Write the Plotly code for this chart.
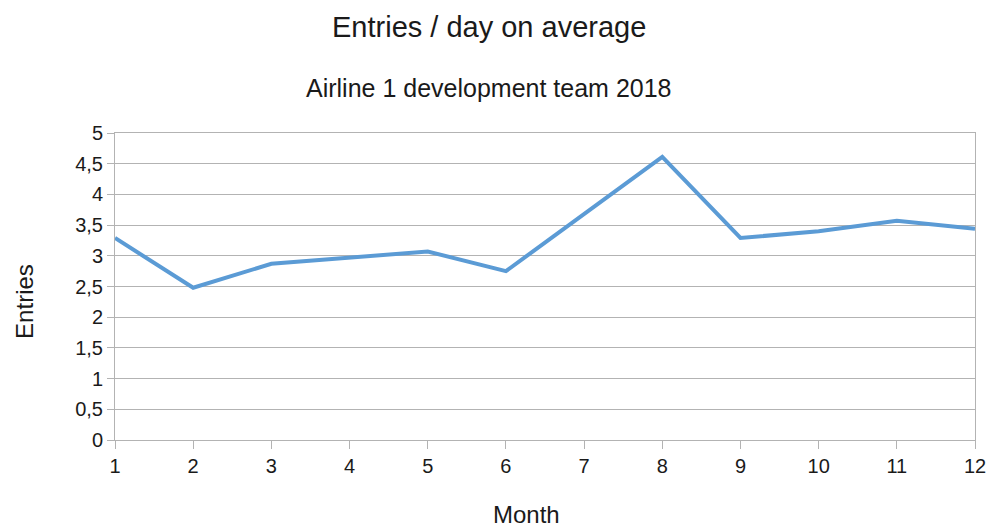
import plotly.graph_objects as go

# Average entries per day, by month
months = [1, 2, 3, 4, 5, 6, 7, 8, 9, 10, 11, 12]
entries = [3.29, 2.48, 2.87, 2.97, 3.07, 2.75, 3.68, 4.61, 3.29, 3.40, 3.57, 3.44]

y_ticks = [0, 0.5, 1, 1.5, 2, 2.5, 3, 3.5, 4, 4.5, 5]

font_family = "Liberation Sans, Arial, sans-serif"
text_col = "#1a1a1a"
grid_col = "#b3b3b3"


def paper_text(text, x, y, size, angle=0):
    return dict(text=text, x=x, y=y, xref="paper", yref="paper",
                xanchor="center", yanchor="middle", showarrow=False,
                textangle=angle,
                font=dict(size=size, family=font_family, color=text_col))


fig = go.Figure()
fig.add_trace(go.Scatter(
    x=months, y=entries, mode="lines",
    line=dict(color="#5b9bd5", width=4),
    showlegend=False,
))

fig.update_layout(
    width=989, height=528,
    margin=dict(l=115, r=14, t=133, b=88, autoexpand=False),
    paper_bgcolor="white", plot_bgcolor="white",
    font=dict(family=font_family, color=text_col, size=20),
    separators=", ",
    annotations=[
        paper_text("Entries / day on average", 0.435, 1.345, 29),
        paper_text("Airline 1 development team 2018", 0.435, 1.147, 25),
        paper_text("Month", 0.478, -0.244, 24),
        paper_text("Entries", -0.1047, 0.453, 24, angle=-90),
    ],
)

fig.update_xaxes(
    range=[1, 12], tickvals=months, ticktext=[str(m) for m in months],
    showgrid=False, showline=True, linecolor=grid_col, linewidth=1, mirror=True,
    ticks="outside", ticklen=8, tickcolor=grid_col, tickwidth=1,
    tickfont=dict(size=20), zeroline=False, automargin=False,
    ticklabeloverflow="allow",
)
fig.update_yaxes(
    range=[0, 5], tickvals=y_ticks,
    showgrid=True, gridcolor=grid_col, gridwidth=1,
    showline=True, linecolor=grid_col, linewidth=1, mirror=True,
    ticks="outside", ticklen=7, tickcolor=grid_col, tickwidth=1,
    tickfont=dict(size=20), zeroline=False, automargin=False,
    ticklabeloverflow="allow",
)

fig.write_html("out.html")
